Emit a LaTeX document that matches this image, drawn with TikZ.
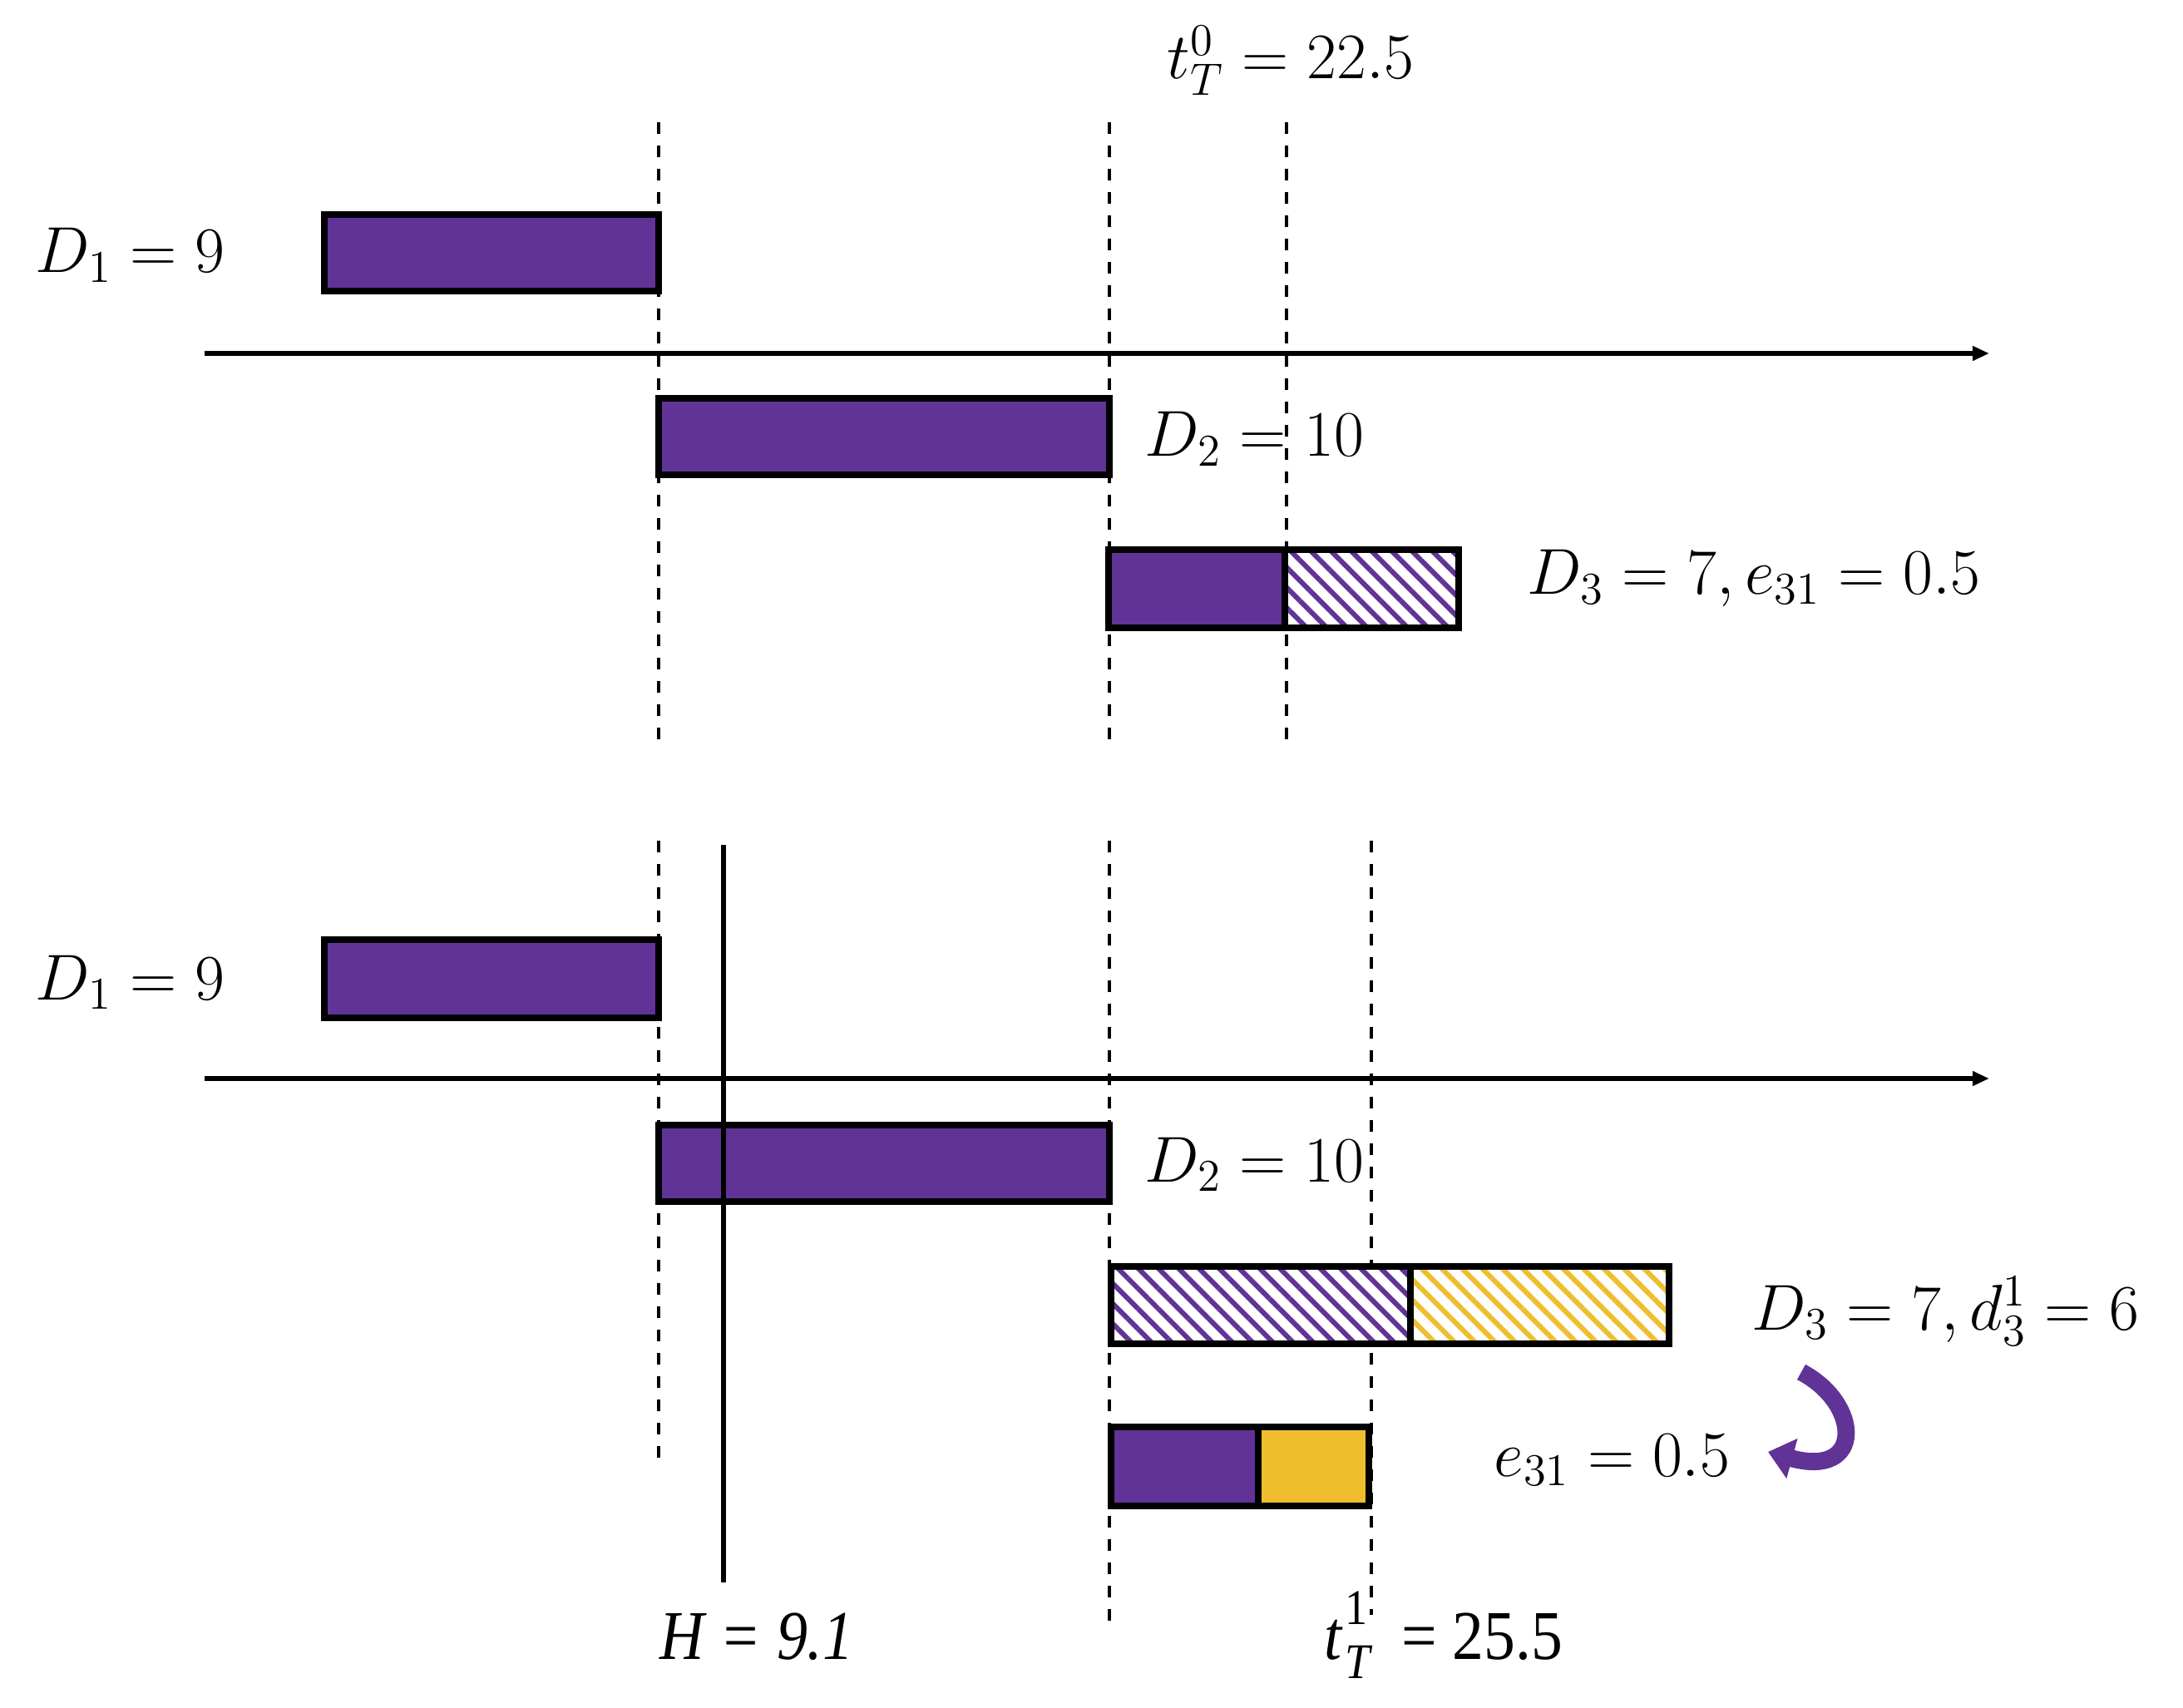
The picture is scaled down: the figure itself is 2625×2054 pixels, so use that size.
\RequirePackage{fix-cm}
\documentclass[tikz,border=0pt]{standalone}
\usepackage{fontspec}
\newfontfamily\timesf{Liberation Serif}
\usetikzlibrary{patterns.meta,arrows.meta}
\definecolor{purp}{RGB}{97,51,151}
\definecolor{gold}{RGB}{238,190,46}
\tikzset{
  lab/.style={anchor=base west,inner sep=0pt,font=\fontsize{19.5}{23}\selectfont},
  tlab/.style={anchor=base west,inner sep=0pt,font=\fontsize{21}{25}\selectfont\timesf},
  guide/.style={line width=0.8pt,dash pattern=on 3.6pt off 3.4pt},
  axis/.style={line width=1.4pt,-{Triangle[length=5pt,width=4.2pt]}},
  boxline/.style={line width=2pt,line join=miter},
  solidp/.style={boxline,fill=purp},
  solidy/.style={boxline,fill=gold},
  hatchp/.style={boxline,preaction={fill=white},pattern={Lines[angle=-45,distance=4.3pt,line width=1.5pt]},pattern color=purp},
  hatchy/.style={boxline,preaction={fill=white},pattern={Lines[angle=-45,distance=4.3pt,line width=1.5pt]},pattern color=gold},
  hline/.style={line width=1.4pt},
  curl/.style={line width=5.2pt,draw=purp,-{Triangle[length=7.5pt,width=12pt]}}
}
\begin{document}
\begin{tikzpicture}[x=0.25pt,y=-0.25pt]
\useasboundingbox (0,0) rectangle (2625,2054);
% ---------- top panel ----------
\draw[guide] (792,147) -- (792,892);
\draw[guide] (1334,147) -- (1334,892);
\draw[guide] (1547,147) -- (1547,892);
\coordinate (a1s) at (246,425);
\coordinate (a1e) at (2392,425);
\draw[axis] (a1s) -- (a1e);
\draw[solidp] (390,258) rectangle (792,350);
\draw[solidp] (792,479) rectangle (1334,571);
\draw[hatchp] (1545,661) rectangle (1754,755);
\draw[solidp] (1333,661) rectangle (1545,755);
\draw[boxline] (1333,661) rectangle (1754,755);
\node[lab] (tt0) at (1403,95) {$t_T^0 = 22.5$};
\node[lab] (d1a) at (42,328) {$D_1 = 9$};
\node[lab] (d2a) at (1376,549) {$D_2 = 10$};
\node[lab] (d3a) at (1836,715) {$D_3 = 7, e_{31} = 0.5$};
% ---------- bottom panel ----------
\draw[guide] (792,1011) -- (792,1758);
\draw[guide] (1334,1011) -- (1334,1962);
\draw[guide] (1649,1011) -- (1649,1942);
\coordinate (a2s) at (246,1297);
\coordinate (a2e) at (2392,1297);
\draw[axis] (a2s) -- (a2e);
\draw[solidp] (390,1130) rectangle (792,1224);
\draw[solidp] (792,1353) rectangle (1334,1445);
\coordinate (ht) at (870,1016);
\coordinate (hb) at (870,1903);
\draw[hline] (ht) -- (hb);
\draw[hatchp] (1336,1523) rectangle (1696,1616);
\draw[hatchy] (1696,1523) rectangle (2007,1616);
\draw[solidp] (1336,1716) rectangle (1513,1811);
\draw[solidy] (1513,1716) rectangle (1646,1811);
\node[lab] (d1b) at (42,1202) {$D_1 = 9$};
\node[lab] (d2b) at (1376,1421) {$D_2 = 10$};
\node[lab] (d3b) at (2106,1599) {$D_3 = 7, d_3^1 = 6$};
\node[lab] (e31) at (1796,1775) {$e_{31} = 0.5$};
\node[tlab] (hl) at (793,1995) {\scalebox{0.88}[1]{\itshape H = 9.1}};
\node[tlab] (tt1) at (1592,1995) {\scalebox{0.9}[1]{\itshape t\kern0.05em\rlap{\raisebox{0.5em}{\upshape\fontsize{15}{15}\selectfont 1}}\raisebox{-0.28em}{\fontsize{15}{15}\selectfont T}\upshape\ \ = 25.5}};
\coordinate (cs) at (2166,1650);
\coordinate (ce) at (2126,1746);
\draw[curl] (cs) .. controls (2238,1688) and (2242,1778) .. (ce);
\end{tikzpicture}
\end{document}
